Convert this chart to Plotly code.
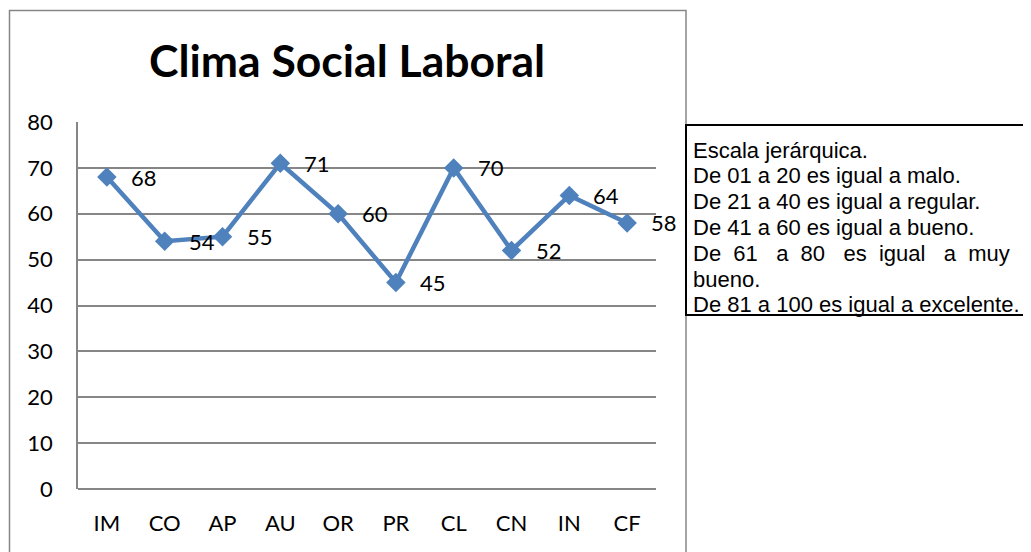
import plotly.graph_objects as go

# dimensiones del clima social laboral
categorias = ['IM', 'CO', 'AP', 'AU', 'OR', 'PR', 'CL', 'CN', 'IN', 'CF']
puntajes = [68, 54, 55, 71, 60, 45, 70, 52, 64, 58]
y_ticks = [0, 10, 20, 30, 40, 50, 60, 70, 80]

NB = '\u00a0'
escala = [
    'Escala jerárquica.',
    'De 01 a 20 es igual a malo.',
    'De 21 a 40 es igual a regular.',
    'De 41 a 60 es igual a bueno.',
    'De' + NB + ' 61' + NB * 2 + ' a' + NB + ' 80' + NB * 2 + ' es' + NB
    + ' igual' + NB * 2 + ' a' + NB + ' muy',
    'bueno.',
    'De 81 a 100 es igual a excelente.',
]

# the page body adds an 8px margin, so work in reference pixels minus 8
OFF = 8
W, H = 1031 - OFF, 552 - OFF
L, R, T, B = 78 - OFF, 656 - OFF, 122 - OFF, 489 - OFF  # plot area


def px(x):
    return (x - OFF - L) / (R - L)


def py(y):
    return (B - (y - OFF)) / (B - T)


FONT = 'Lato, Calibri, sans-serif'
AZUL = '#4F81BD'
GRIS = '#868686'

fig = go.Figure()

fig.add_trace(go.Scatter(
    x=categorias, y=puntajes,
    mode='lines+markers',
    line=dict(color=AZUL, width=4.5),
    marker=dict(symbol='diamond', size=15, color=AZUL),
    showlegend=False,
    hoverinfo='skip',
))

# etiquetas de datos a la derecha del marcador
for c, v in zip(categorias, puntajes):
    fig.add_annotation(
        x=c, y=v, text=str(v), showarrow=False,
        xanchor='left', yanchor='middle', xshift=22, yshift=0,
        font=dict(family=FONT, size=22, color='#000000'),
    )

fig.update_layout(
    width=W, height=H,
    margin=dict(l=L, r=W - R, t=T, b=H - B),
    paper_bgcolor='white', plot_bgcolor='white',
    title=dict(
        text='<b>Clima Social Laboral</b>',
        x=(347 - OFF) / W, xanchor='center',
        y=1 - (61 - OFF) / H, yanchor='middle',
        font=dict(family=FONT, size=44.5, color='#000000'),
    ),
    xaxis=dict(
        range=[-0.5, len(categorias) - 0.5],
        showgrid=False, zeroline=False,
        showline=False, ticks='',
        tickfont=dict(family=FONT, size=22, color='#000000'),
        ticklabelstandoff=19,
    ),
    yaxis=dict(
        range=[0, 80], tickvals=y_ticks,
        showgrid=True, gridcolor=GRIS, gridwidth=1.5,
        zeroline=True, zerolinecolor=GRIS, zerolinewidth=1.5,
        showline=True, linecolor=GRIS, linewidth=1.5, ticks='',
        tickfont=dict(family=FONT, size=22, color='#000000'),
        ticklabelstandoff=19,
    ),
)

# borde del área del gráfico
fig.add_shape(
    type='rect', xref='paper', yref='paper',
    x0=px(9.5), x1=px(686), y0=py(570), y1=py(10.5),
    line=dict(color=GRIS, width=1.5), fillcolor='rgba(0,0,0,0)',
    layer='below',
)

# cuadro de la escala
fig.add_shape(
    type='rect', xref='paper', yref='paper',
    x0=px(686), x1=px(1045), y0=py(315), y1=py(125),
    line=dict(color='#000000', width=2), fillcolor='white',
)

linea_y = [150, 175.8, 201.6, 227.4, 253.2, 279, 304.8]
for txt, yy in zip(escala, linea_y):
    fig.add_annotation(
        xref='paper', yref='paper', x=px(691), y=py(yy),
        text=txt, showarrow=False, xanchor='left', yanchor='middle',
        font=dict(family='Liberation Sans, Arial', size=22, color='#000000'),
    )

fig.write_html('out.html')
